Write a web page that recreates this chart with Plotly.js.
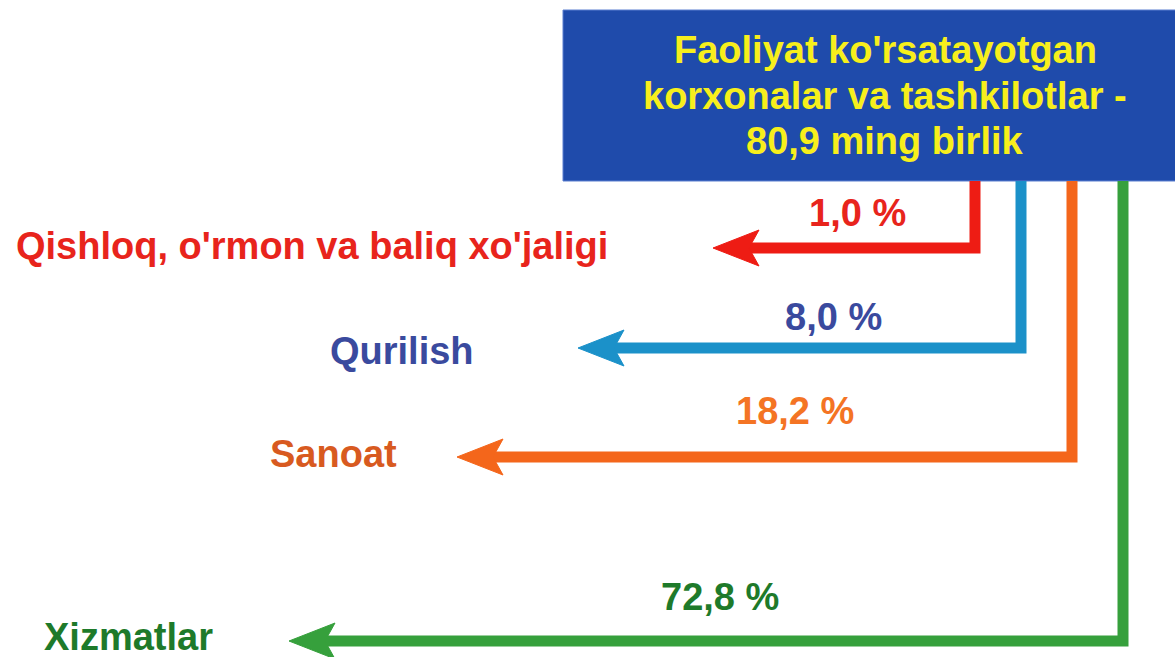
<!DOCTYPE html>
<html>
<head>
<meta charset="utf-8">
<script src="https://cdn.plot.ly/plotly-3.0.1.min.js"></script>
<style>html,body{margin:0;padding:0;background:#fff;}#chart{width:1175px;height:657px;}</style>
</head>
<body>
<div id="chart"></div>
<script>
// ---- data ----
const titleLines = ["Faoliyat ko'rsatayotgan", "korxonalar va tashkilotlar -", "80,9 ming birlik"];
const categories = ["Qishloq, o'rmon va baliq xo'jaligi", "Qurilish", "Sanoat", "Xizmatlar"];
const shares = [1.0, 8.0, 18.2, 72.8];

// ---- layout geometry & styles ----
const lineColors = ["#ee1c14", "#1b91c9", "#f4661b", "#36a03c"];
const pctColors = ["#e8241c", "#3a4a9e", "#f47424", "#1e7a2a"];
const catColors = ["#e8241c", "#3a4a9e", "#d85a20", "#1e7a2a"];
const stemX = [975, 1021, 1072, 1123];
const armY = [248, 348, 457, 641];
const tipX = [713, 578, 457, 289];
const pctPos = [[857, 213], [833, 317], [795, 411], [720, 597]];
const catPos = [[312, 246], [402, 351], [333, 454], [128, 637]];
const boxTop = 10, boxBottom = 181, boxLeft = 563;
const titleX = 885, titleY = [50, 96, 141];

function fmtPct(v) { return v.toFixed(1).replace('.', ',') + ' %'; }

const traces = [];
const annotations = [];
const FONT = "Liberation Sans, Arial, sans-serif";
const FS = 38;
const headLen = 46, headHalf = 18, notch = 10;

categories.forEach((c, i) => {
  // arrow shaft
  traces.push({
    x: [stemX[i], stemX[i], tipX[i] + headLen - notch],
    y: [boxBottom, armY[i], armY[i]],
    mode: 'lines', line: {color: lineColors[i], width: 11}, hoverinfo: 'skip', showlegend: false
  });
  // arrow head
  const t = tipX[i], y = armY[i];
  traces.push({
    x: [t, t + headLen, t + headLen - notch, t + headLen, t],
    y: [y, y - headHalf, y, y + headHalf, y],
    mode: 'lines', fill: 'toself', fillcolor: lineColors[i],
    line: {color: lineColors[i], width: 1}, hoverinfo: 'skip', showlegend: false
  });
  annotations.push({
    x: pctPos[i][0], y: pctPos[i][1], xref: 'x', yref: 'y', showarrow: false,
    text: '<b>' + fmtPct(shares[i]) + '</b>',
    font: {family: FONT, size: FS, color: pctColors[i]}, xanchor: 'center', yanchor: 'middle'
  });
  annotations.push({
    x: catPos[i][0], y: catPos[i][1], xref: 'x', yref: 'y', showarrow: false,
    text: '<b>' + c + '</b>',
    font: {family: FONT, size: FS, color: catColors[i]}, xanchor: 'center', yanchor: 'middle'
  });
});

titleLines.forEach((t, i) => {
  annotations.push({
    x: titleX, y: titleY[i], xref: 'x', yref: 'y', showarrow: false,
    text: '<b>' + t + '</b>',
    font: {family: FONT, size: FS, color: '#f7ef1c'}, xanchor: 'center', yanchor: 'middle'
  });
});

const layout = {
  width: 1175, height: 657,
  margin: {l: 0, r: 0, t: 0, b: 0},
  paper_bgcolor: '#ffffff', plot_bgcolor: '#ffffff',
  xaxis: {range: [0, 1175], visible: false, fixedrange: true},
  yaxis: {range: [657, 0], visible: false, fixedrange: true},
  shapes: [{
    type: 'rect', xref: 'x', yref: 'y', x0: boxLeft, x1: 1180, y0: boxTop, y1: boxBottom,
    fillcolor: '#1f4bab', line: {color: '#5b7fd0', width: 1}, layer: 'below'
  }],
  annotations: annotations,
  showlegend: false
};

Plotly.newPlot('chart', traces, layout, {staticPlot: true, displayModeBar: false});
</script>
</body>
</html>
